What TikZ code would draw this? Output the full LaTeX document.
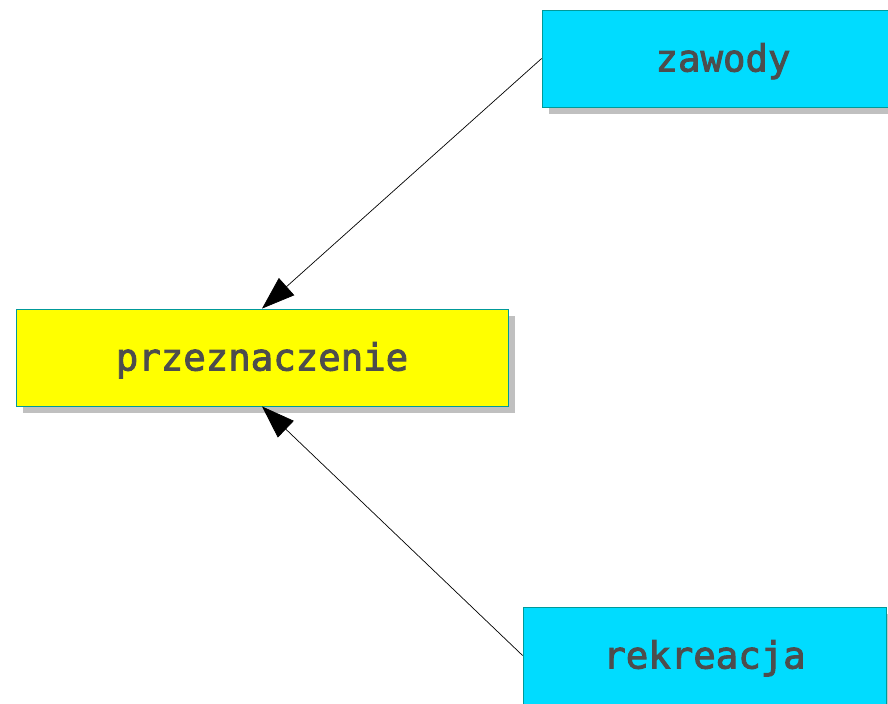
\documentclass[tikz,border=0pt]{standalone}
\usepackage{fontspec}
\newfontfamily\boxfont{DejaVu Sans Mono}[FakeBold=2.5]
\usetikzlibrary{arrows.meta,shadows}
\definecolor{cyanbox}{HTML}{00DCFF}
\definecolor{yellowbox}{HTML}{FFFF00}
\definecolor{edgecol}{HTML}{009999}
\definecolor{txt}{HTML}{4D4D4D}
\definecolor{shadowgray}{HTML}{C0C0C0}
\tikzset{
  box/.style={rectangle, draw=edgecol, line width=0.8bp, minimum height=97bp,
    font=\boxfont\fontsize{37.5}{40}\selectfont, text=txt, inner sep=0pt,
    text height=32bp, text depth=6bp,
    drop shadow={shadow xshift=7bp, shadow yshift=-7bp, fill=shadowgray, opacity=1}},
  conn/.style={draw=black, line width=0.7bp, -{Triangle[length=33bp, width=23bp]}}
}
\begin{document}
\begin{tikzpicture}[x=1bp, y=-1bp]
\useasboundingbox (0,0) rectangle (888,704);
\clip (0,0) rectangle (888,704);
\node[box, fill=cyanbox, minimum width=362bp] (zawody) at (723,58.5) {zawody};
\node[box, fill=yellowbox, minimum width=492bp] (przez) at (262,357.5) {przeznaczenie};
\node[box, fill=cyanbox, minimum width=363bp] (rekre) at (704.5,655.5) {rekreacja};
\draw[conn] (zawody.west) -- (przez.north);
\draw[conn] (rekre.west) -- (przez.south);
\end{tikzpicture}
\end{document}
